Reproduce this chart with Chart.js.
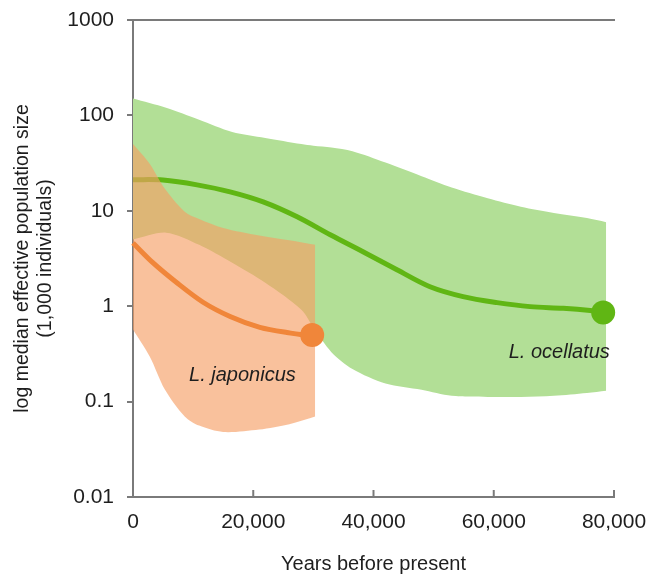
<!DOCTYPE html>
<html>
<head>
<meta charset="utf-8">
<script src="https://cdn.jsdelivr.net/npm/chart.js@4.4.1/dist/chart.umd.min.js"></script>
<style>
  body { margin: 0; background: #fff; }
</style>
</head>
<body>
<canvas id="neChart" width="649" height="580"></canvas>
<script>
// axis ticks
var xTicks = [0, 20000, 40000, 60000, 80000];
var xTickLabels = ["0", "20,000", "40,000", "60,000", "80,000"];
var yTicks = [0.01, 0.1, 1, 10, 100, 1000];
var yTickLabels = ["0.01", "0.1", "1", "10", "100", "1000"];

// L. ocellatus : 95% band + median
var ocelBandYears = [0, 5500, 11000, 16500, 22000, 28000, 30000, 33000, 36500, 42000, 48000, 53000, 59000, 64500, 70000, 75500, 78700];
var ocelUpper = [150, 120, 90, 67, 58, 50, 48, 46, 42, 32, 23, 17.5, 13.5, 11, 9.5, 8.4, 7.6];
var ocelLower = [5.0, 5.9, 4.4, 2.85, 1.76, 0.92, 0.6, 0.33, 0.22, 0.155, 0.133, 0.115, 0.112, 0.112, 0.115, 0.123, 0.13];
var ocelYears = [0, 5000, 10650, 16150, 21650, 27300, 32800, 38250, 43900, 49400, 54900, 60550, 66050, 71550, 76050, 78200];
var ocelMedian = [21.2, 21.0, 18.7, 15.8, 12.4, 8.65, 5.6, 3.72, 2.41, 1.6, 1.26, 1.09, 0.99, 0.95, 0.9, 0.86];

// L. japonicus : 95% band + median
var japBandYears = [0, 2800, 5300, 8600, 11000, 15000, 21000, 26000, 30300];
var japUpper = [50, 31, 17, 9.8, 8.2, 6.6, 5.5, 4.9, 4.4];
var japLower = [0.57, 0.296, 0.134, 0.07, 0.056, 0.048, 0.051, 0.058, 0.07];
var japYears = [0, 3300, 7300, 11650, 16150, 21100, 25600, 29000, 29800];
var japMedian = [4.6, 2.86, 1.76, 1.1, 0.78, 0.60, 0.53, 0.50, 0.50];

function pts(xs, ys) {
  return xs.map(function (x, i) { return {x: x, y: ys[i]}; });
}
function endDot(r) {
  return function (ctx) { return ctx.dataIndex === ctx.dataset.data.length - 1 ? r : 0; };
}

var axisColor = "#7a7a7a";
var textColor = "#1e1e1e";
var font = "'Liberation Sans', Arial, sans-serif";

// small up-pointing ticks on the x axis, plus species names
var extras = {
  id: "extras",
  afterDraw: function (chart) {
    var c = chart.ctx, x = chart.scales.x, y = chart.scales.y;
    c.save();
    c.strokeStyle = axisColor;
    c.lineWidth = 2;
    xTicks.forEach(function (v) {
      var px = x.getPixelForValue(v);
      c.beginPath();
      c.moveTo(px, y.bottom);
      c.lineTo(px, y.bottom - 7);
      c.stroke();
    });
    c.fillStyle = textColor;
    c.font = "italic 20px " + font;
    c.textAlign = "center";
    c.textBaseline = "middle";
    c.fillText("L. japonicus", x.getPixelForValue(18200), y.getPixelForValue(0.187));
    c.fillText("L. ocellatus", x.getPixelForValue(70900), y.getPixelForValue(0.326));
    c.restore();
  }
};

new Chart("neChart", {
  type: "line",
  data: {
    datasets: [{
      data: pts(ocelBandYears, ocelUpper),
      fill: "+1",
      backgroundColor: "rgb(178,223,150)",
      borderWidth: 0,
      pointRadius: 0,
      tension: 0.3,
      order: 6
    }, {
      data: pts(ocelBandYears, ocelLower),
      fill: false,
      borderWidth: 0,
      pointRadius: 0,
      tension: 0.3,
      order: 7
    }, {
      data: pts(ocelYears, ocelMedian),
      borderColor: "rgb(96,182,20)",
      borderWidth: 5,
      tension: 0.35,
      pointRadius: endDot(12),
      pointBackgroundColor: "rgb(96,182,20)",
      pointBorderWidth: 0,
      clip: false,
      order: 5
    }, {
      data: pts(japBandYears, japUpper),
      fill: "+1",
      backgroundColor: "rgba(245,158,100,0.64)",
      borderWidth: 0,
      pointRadius: 0,
      tension: 0.3,
      order: 3
    }, {
      data: pts(japBandYears, japLower),
      fill: false,
      borderWidth: 0,
      pointRadius: 0,
      tension: 0.3,
      order: 4
    }, {
      data: pts(japYears, japMedian),
      borderColor: "rgb(240,134,58)",
      borderWidth: 5,
      cubicInterpolationMode: "monotone",
      pointRadius: endDot(12),
      pointBackgroundColor: "rgb(240,134,58)",
      pointBorderWidth: 0,
      clip: false,
      order: 1
    }]
  },
  options: {
    responsive: false,
    animation: false,
    layout: {padding: {left: 0, right: 35, top: 0, bottom: 0}},
    plugins: {legend: {display: false}, tooltip: {enabled: false}},
    scales: {
      x: {
        type: "linear",
        min: 0, max: 80000,
        afterBuildTicks: function (s) { s.ticks = xTicks.map(function (v) { return {value: v}; }); },
        afterFit: function (s) { s.height = 83; s.paddingLeft = 0; s.paddingRight = 0; },
        grid: {display: false},
        border: {color: axisColor, width: 2},
        ticks: {
          color: textColor, padding: 5,
          font: {family: font, size: 21},
          maxRotation: 0,
          callback: function (v, i) { return xTickLabels[i]; }
        },
        title: {
          display: true, text: "Years before present",
          color: textColor, font: {family: font, size: 20},
          padding: {top: 14}
        }
      },
      x2: {
        type: "linear", position: "top",
        min: 0, max: 80000,
        afterFit: function (s) { s.height = 20; s.paddingLeft = 0; s.paddingRight = 0; },
        grid: {display: false},
        ticks: {display: false},
        border: {color: axisColor, width: 2}
      },
      y: {
        type: "logarithmic",
        min: 0.01, max: 1000,
        afterBuildTicks: function (s) { s.ticks = yTicks.map(function (v) { return {value: v}; }); },
        afterFit: function (s) { s.width = 133; s.paddingTop = 0; s.paddingBottom = 0; },
        grid: {drawOnChartArea: false, tickLength: 6, color: axisColor, lineWidth: 2},
        border: {color: axisColor, width: 2},
        ticks: {
          color: textColor, padding: 13,
          font: {family: font, size: 21},
          callback: function (v, i) { return yTickLabels[i]; }
        },
        title: {
          display: true,
          text: ["log median effective population size", "(1,000 individuals)"],
          color: textColor, font: {family: font, size: 19.5, lineHeight: 1.2},
          padding: {top: 11, bottom: 0}
        }
      }
    }
  },
  plugins: [extras]
});
</script>
</body>
</html>
